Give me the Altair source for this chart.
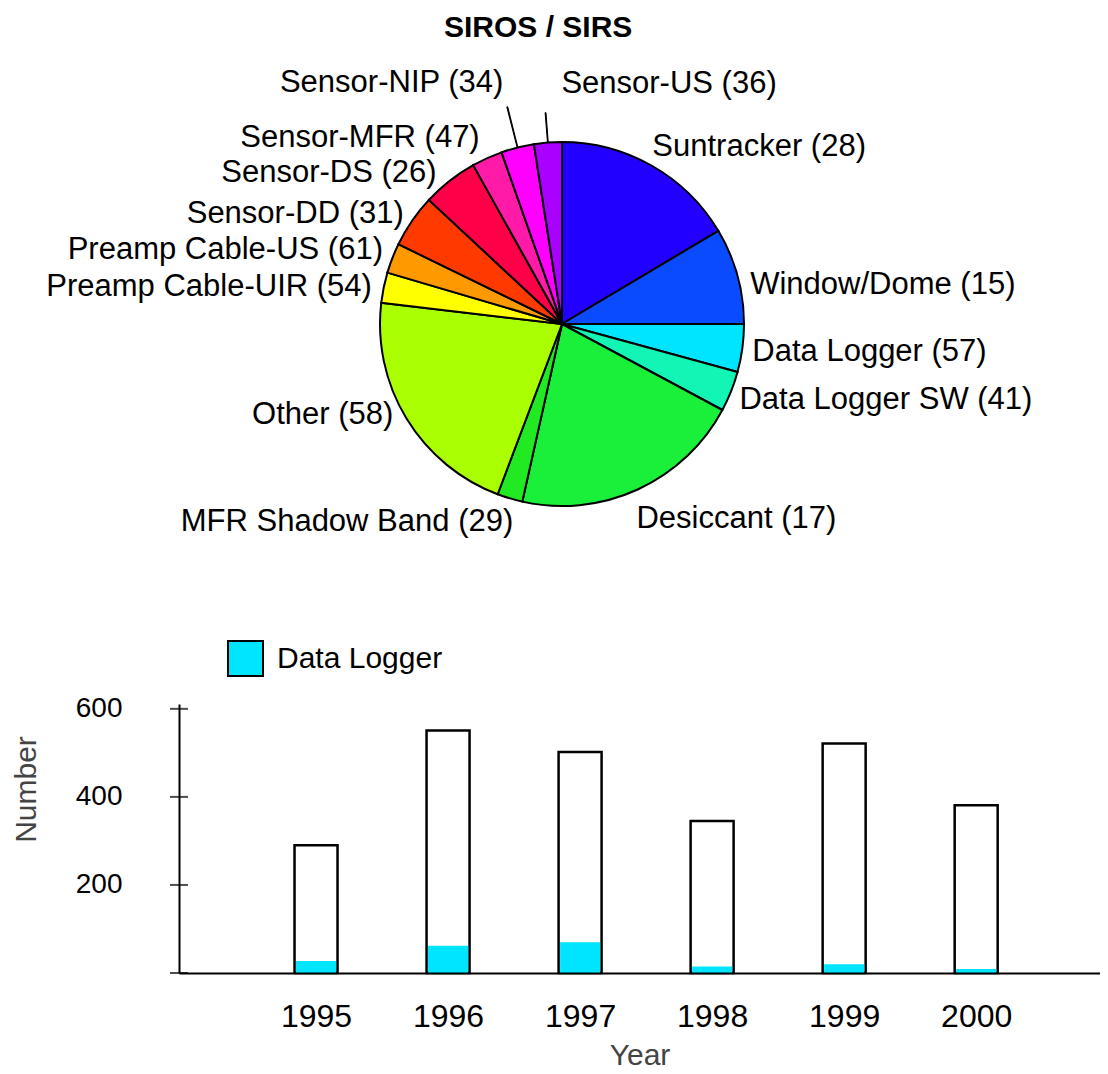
import altair as alt
import pandas as pd

FONT = "Liberation Sans"

# ---- pie data (clockwise from 12 o'clock) ----
names = ["Suntracker", "Window/Dome", "Data Logger", "Data Logger SW", "Desiccant",
         "MFR Shadow Band", "Other", "Preamp Cable-UIR", "Preamp Cable-US",
         "Sensor-DD", "Sensor-DS", "Sensor-MFR", "Sensor-NIP", "Sensor-US"]
counts = [28, 15, 57, 41, 17, 29, 58, 54, 61, 31, 26, 47, 34, 36]
shares = [59.2, 30.8, 15.3, 12.9, 74.4, 8.1, 76.0, 9.7, 9.6, 17.0, 17.8, 9.8, 10.5, 8.9]
colors = ["#2200ff", "#0b4bff", "#00e5ff", "#12f5b5", "#1aef3a", "#22ea22", "#aaff00",
          "#ffff00", "#ff9900", "#ff3a00", "#ff0048", "#ff1aa8", "#ff00ff", "#aa00ff"]

# ---- bar data ----
years = [1995, 1996, 1997, 1998, 1999, 2000]
totals = [290, 551, 502, 345, 521, 381]
logger = [27, 62, 70, 15, 20, 9]
ytick_values = [0, 200, 400, 600]

# label layout: name -> (radius, align, dx, dy)
label_layout = {
    "Suntracker": (195, "left", -6, -7),
    "Window/Dome": (190, "left", 5, 11),
    "Data Logger": (190, "left", 2, 3),
    "Data Logger SW": (190, "left", 1, 6),
    "Desiccant": (210, "left", -13, 4),
    "MFR Shadow Band": (205, "right", 10, 2),
    "Other": (195, "right", -2, -10),
    "Preamp Cable-UIR": (192, "right", -2, 1),
    "Preamp Cable-US": (192, "right", 0, -5),
    "Sensor-DD": (192, "right", 0, -1),
    "Sensor-DS": (195, "right", -5, 2),
    "Sensor-MFR": (200, "right", 0, -4),
    "Sensor-NIP": (244, "right", 1, -4),
    "Sensor-US": (240, "left", 18, -1),
}
leaders = {"Sensor-NIP": 224, "Sensor-US": 212}

pie_df = pd.DataFrame({
    "idx": list(range(len(names))),
    "name": names,
    "value": shares,
    "label": [f"{n} ({c})" for n, c in zip(names, counts)],
})

CX, CY = 383, 290
theta_scale = alt.Scale(domain=[0, 360])
color_scale = alt.Scale(domain=names, range=colors)

base = alt.Chart(pie_df).transform_window(
    cum="sum(value)", sort=[alt.SortField("idx", order="ascending")]
).transform_calculate(
    start="datum.cum - datum.value",
    mid="datum.cum - datum.value / 2",
    lo="datum.cum - datum.value / 2 - 0.12",
    hi="datum.cum - datum.value / 2 + 0.12",
)

arcs = base.mark_arc(radius=182, stroke="black", strokeWidth=2).encode(
    theta=alt.Theta("start:Q", scale=theta_scale),
    theta2="cum:Q",
    color=alt.Color("name:N", scale=color_scale, legend=None),
    x=alt.value(CX), y=alt.value(CY),
)

layers = [arcs]
for nm, r_out in leaders.items():
    layers.append(
        base.transform_filter(alt.datum.name == nm)
        .mark_arc(radius=r_out, radius2=182, fill="black", stroke="black", strokeWidth=1)
        .encode(theta=alt.Theta("lo:Q", scale=theta_scale), theta2="hi:Q",
                x=alt.value(CX), y=alt.value(CY))
    )

for nm, (r, al, dx, dy) in label_layout.items():
    layers.append(
        base.transform_filter(alt.datum.name == nm)
        .mark_text(radius=r, align=al, baseline="middle", dx=dx, dy=dy,
                   fontSize=31, font=FONT, color="black")
        .encode(theta=alt.Theta("mid:Q", scale=theta_scale), text="label:N",
                x=alt.value(CX), y=alt.value(CY))
    )

pie = alt.layer(*layers).properties(
    width=921, height=560,
    title=alt.TitleParams("SIROS / SIRS", fontSize=30, fontWeight="bold", font=FONT,
                          anchor="start", frame="group", dx=265, dy=9, offset=0,
                          color="black"),
)

# ---- bar chart ----
bar_df = pd.DataFrame({"year": years, "total": totals, "logger": logger,
                       "series": ["Data Logger"] * len(years)})
tick_df = pd.DataFrame({"v": ytick_values})

xs = alt.Scale(domain=[1994, 2000.9], nice=False, zero=False)
ys = alt.Scale(domain=[0, 611], nice=False)

x_axis = alt.Axis(values=years, format="d", ticks=False, tickSize=0, labelPadding=28,
                  labelFontSize=32, labelFont=FONT, labelColor="black",
                  domainColor="black", domainWidth=2, grid=False, zindex=1,
                  title="Year", titleFontSize=30, titleFont=FONT, titleFontWeight="normal",
                  titleColor="#444444", titlePadding=8)
y_axis = alt.Axis(values=[200, 400, 600], ticks=False, tickSize=0, labelPadding=57,
                  labelFontSize=28, labelFont=FONT, labelColor="black",
                  domainColor="black", domainWidth=2, grid=False, zindex=1,
                  title="Number", titleFontSize=30, titleFont=FONT, titleFontWeight="normal",
                  titleColor="#444444", titlePadding=34, titleY=85)

outline = alt.Chart(bar_df).mark_bar(size=43, fill="white", stroke="black", strokeWidth=2.5).encode(
    x=alt.X("year:Q", scale=xs, axis=x_axis),
    y=alt.Y("total:Q", scale=ys, axis=y_axis),
)
cyan = alt.Chart(bar_df).mark_bar(size=40).encode(
    x=alt.X("year:Q", scale=xs, axis=x_axis),
    y=alt.Y("logger:Q", scale=ys, axis=y_axis),
    color=alt.Color("series:N", scale=alt.Scale(domain=["Data Logger"], range=["#00e5ff"]),
                    legend=alt.Legend(title=None, orient="none", legendX=48, legendY=-64,
                                      symbolType="square", symbolSize=1225,
                                      symbolStrokeColor="black", symbolStrokeWidth=2,
                                      labelFontSize=30, labelFont=FONT, labelColor="black",
                                      labelOffset=13, labelLimit=500)),
)
ticks = alt.Chart(tick_df).mark_tick(orient="horizontal", size=18, thickness=2, color="black").encode(
    x=alt.value(0),
    y=alt.Y("v:Q", scale=ys, axis=y_axis),
)

bars = alt.layer(outline, cyan, ticks).properties(width=921, height=269)

chart = alt.vconcat(pie, bars, spacing=46).resolve_legend(
    color="independent"
).resolve_scale(color="independent").properties(
    padding={"left": 3, "top": 5, "right": 0, "bottom": 0}
).configure(font=FONT).configure_view(strokeWidth=0)

chart.save("out.html", embed_options={"renderer": "svg", "actions": False})
